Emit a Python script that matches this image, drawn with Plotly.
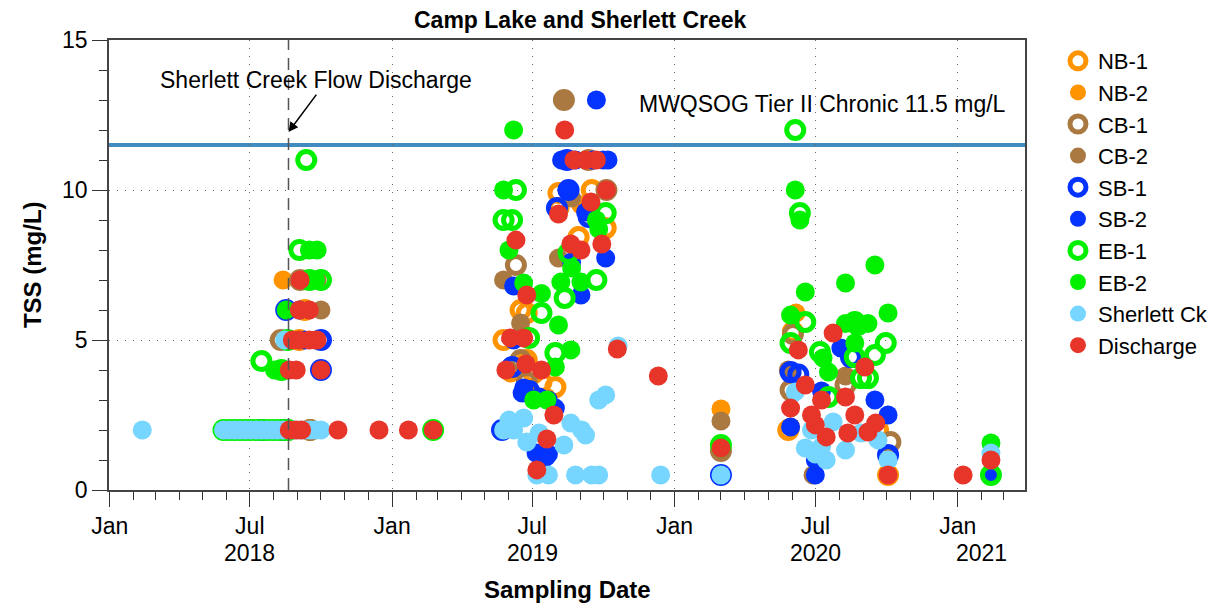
import plotly.graph_objects as go

# ---- data (date, TSS mg/L) ----
nb1_dates = ["2018-09-03", "2018-09-10", "2018-09-17",
             "2019-05-25", "2019-06-16", "2019-06-24", "2019-06-24", "2019-07-13", "2019-07-31",
             "2019-08-04", "2019-08-04", "2019-08-30", "2019-09-16", "2019-10-04", "2019-07-03",
             "2020-05-27", "2020-06-02", "2020-09-20", "2020-10-03"]
nb1_vals = [5.0, 6.0, 2.0,
            5.0, 6.0, 5.9, 4.33, 3.6, 3.43,
            9.9, 9.4, 8.43, 10.0, 8.73, 3.9,
            2.0, 5.27, 2.0, 0.5]

nb2_dates = ["2018-08-13",
             "2019-06-03", "2019-07-19", "2019-09-02",
             "2020-03-01", "2020-06-06", "2020-05-30"]
nb2_vals = [7.0,
            3.9, 3.1, 9.5,
            2.7, 5.9, 2.1]

cb1_dates = ["2018-08-10", "2018-09-04", "2018-09-17",
             "2019-08-11", "2019-09-12", "2019-10-05", "2019-06-10", "2019-06-16", "2019-06-24",
             "2020-03-01", "2020-05-30", "2020-06-02", "2020-10-06", "2020-08-09"]
cb1_vals = [5.0, 7.0, 2.0,
            13.0, 11.0, 10.0, 7.5, 4.33, 3.6,
            1.3, 3.33, 5.2, 1.6, 3.5]

cb2_dates = ["2018-10-01", "2018-09-26", "2018-09-24",
             "2019-08-12", "2019-05-25", "2019-06-16", "2019-08-04", "2019-08-21", "2019-09-16",
             "2020-03-01", "2020-08-09", "2020-06-28", "2020-05-27"]
cb2_vals = [6.0, 7.0, 5.0,
            13.0, 7.0, 5.57, 7.73, 9.73, 11.0,
            2.3, 3.8, 0.5, 4.0]

sb1_dates = ["2018-10-01", "2018-10-01", "2018-08-17", "2018-07-16", "2018-08-13",
             "2019-05-23", "2019-06-05", "2019-08-02", "2019-08-17", "2019-08-15", "2019-09-12",
             "2019-06-27",
             "2020-03-01", "2020-05-30", "2020-06-09", "2020-08-16", "2020-10-03"]
sb1_vals = [4.0, 5.0, 6.0, 2.0, 2.0,
            2.0, 4.1, 9.4, 10.0, 11.0, 9.1,
            3.3,
            0.5, 3.93, 3.85, 4.43, 1.17]

sb2_dates = ["2018-09-10", "2018-09-03",
             "2019-09-22", "2019-08-08", "2019-08-15", "2019-08-26", "2019-09-18", "2019-10-01",
             "2019-10-07", "2019-08-15", "2019-09-08", "2019-10-04", "2019-08-21", "2019-09-02",
             "2019-06-07", "2019-06-07", "2019-06-18", "2019-07-22", "2019-07-31", "2019-07-06",
             "2019-07-19", "2019-07-22", "2019-06-20", "2019-07-10",
             "2020-05-30", "2020-07-01", "2020-07-01", "2020-08-03", "2020-09-16", "2020-10-03",
             "2020-07-09", "2021-02-13"]
sb2_vals = [5.0, 6.0,
            13.0, 11.0, 11.0, 11.0, 11.0, 11.0,
            11.0, 10.0, 9.27, 7.73, 7.6, 6.5,
            6.8, 5.0, 3.23, 3.0, 2.73, 1.23,
            1.1, 1.2, 3.4, 3.1,
            2.1, 1.0, 0.5, 4.73, 3.0, 2.5,
            3.3, 0.5]

eb1_dates = ["2018-05-28", "2018-06-04", "2018-06-11", "2018-06-18", "2018-06-25", "2018-07-02",
             "2018-07-09", "2018-07-16", "2018-07-23", "2018-07-30", "2018-08-06", "2018-08-13",
             "2018-08-20", "2018-07-16", "2018-08-11", "2018-08-19", "2018-09-03", "2018-09-12",
             "2018-09-16", "2018-10-01", "2019-02-23",
             "2019-06-10", "2019-05-25", "2019-06-05", "2019-06-27", "2019-07-13", "2019-07-31",
             "2019-08-12", "2019-08-17", "2019-09-22", "2019-10-04",
             "2020-06-05", "2020-06-11", "2020-03-01", "2020-05-30", "2020-06-18", "2020-07-07",
             "2020-08-21", "2020-08-25", "2020-08-21", "2020-09-07", "2020-08-29", "2020-09-16",
             "2020-09-30", "2020-07-18", "2021-02-13"]
eb1_vals = [2, 2, 2, 2, 2, 2,
            2, 2, 2, 2, 2, 2,
            2, 4.3, 4.0, 5.0, 8.0, 11.0,
            7.0, 7.0, 2.0,
            10.0, 9.0, 9.0, 5.07, 5.9, 4.57,
            6.4, 7.9, 7.0, 9.23,
            12.0, 9.23, 1.5, 4.9, 5.6, 4.6,
            5.6, 5.5, 4.43, 3.73, 3.73, 4.5,
            4.9, 3.1, 0.5]

eb2_dates = ["2018-08-02", "2018-08-17", "2018-09-24", "2018-09-16", "2018-09-26",
             "2019-06-07", "2019-05-25", "2019-06-01", "2019-06-20", "2019-07-13", "2019-08-04",
             "2019-08-20", "2019-07-31", "2019-08-07", "2019-09-02", "2019-08-21", "2019-09-22",
             "2019-09-25", "2019-07-03", "2019-07-20",
             "2020-06-05", "2020-06-11", "2020-09-16", "2020-08-09", "2020-06-18", "2020-05-30",
             "2020-08-09", "2020-08-25", "2020-09-07", "2020-10-03", "2020-07-11", "2020-07-18",
             "2020-08-21", "2020-03-01", "2021-02-13"]
eb2_vals = [4.0, 6.0, 7.0, 8.0, 8.0,
            12.0, 10.0, 8.0, 6.9, 6.55, 5.5,
            4.67, 4.1, 6.93, 6.93, 7.4, 9.0,
            8.7, 3.0, 3.0,
            10.0, 9.0, 7.5, 6.9, 6.6, 5.83,
            5.55, 5.55, 5.55, 5.9, 4.4, 3.93,
            4.9, 1.4, 1.57]

sck_dates = ["2018-02-12", "2018-05-28", "2018-06-04", "2018-06-11", "2018-06-18", "2018-06-25",
             "2018-07-02", "2018-07-09", "2018-07-16", "2018-07-23", "2018-07-30", "2018-08-06",
             "2018-08-13", "2018-08-20", "2018-08-27", "2018-09-03", "2018-09-10", "2018-09-17",
             "2018-09-24", "2018-10-01", "2018-08-15",
             "2019-06-01", "2019-05-25", "2019-06-07", "2019-06-24", "2019-06-20", "2019-07-10",
             "2019-08-20", "2019-09-03", "2019-09-08", "2019-08-11", "2019-07-07", "2019-07-22",
             "2019-08-26", "2019-09-16", "2019-09-25", "2019-10-04", "2019-09-25", "2019-10-20",
             "2019-12-14",
             "2020-03-01", "2020-06-05", "2020-06-18", "2020-07-09", "2020-07-24", "2020-08-09",
             "2020-08-29", "2020-09-20", "2020-10-03", "2020-07-01", "2020-07-15", "2020-06-26",
             "2021-02-13"]
sck_vals = [2, 2, 2, 2, 2, 2,
            2, 2, 2, 2, 2, 2,
            2, 2, 2, 2, 2, 2,
            2, 2, 5.0,
            2.33, 2.0, 2.0, 1.6, 2.4, 1.9,
            2.23, 2.0, 1.83, 1.5, 0.5, 0.5,
            0.5, 0.5, 0.5, 3.17, 3.0, 4.8,
            0.5,
            0.5, 3.27, 1.4, 1.45, 2.27, 1.33,
            1.9, 1.67, 1.0, 1.2, 1.0, 2.0,
            1.23]

dis_dates = ["2018-08-21", "2018-08-30", "2018-09-06", "2018-10-23", "2018-12-15", "2019-01-22",
             "2019-02-23", "2018-08-21", "2018-08-30", "2018-10-01", "2018-08-25", "2018-09-03",
             "2018-09-16", "2018-09-26", "2018-09-03", "2018-09-16", "2018-09-04",
             "2019-08-12", "2019-08-24", "2019-09-08", "2019-09-22", "2019-10-05", "2019-08-04",
             "2019-09-15", "2019-06-10", "2019-08-20", "2019-09-02", "2019-09-29", "2019-06-24",
             "2019-06-03", "2019-06-20", "2019-05-28", "2019-06-23", "2019-07-13", "2019-07-29",
             "2019-07-20", "2019-07-07", "2019-10-19", "2019-12-11",
             "2020-03-01", "2020-06-09", "2020-06-18", "2020-07-24", "2020-07-09", "2020-08-09",
             "2020-09-03", "2020-05-30", "2020-06-26", "2020-08-21", "2020-09-17", "2020-07-01",
             "2020-07-15", "2020-08-12", "2020-09-07", "2020-10-03", "2021-01-08", "2021-02-13"]
dis_vals = [2, 2, 2, 2, 2, 2,
            2, 4, 4, 4, 5, 5,
            5, 5, 6, 6, 7,
            12.0, 11.0, 11.0, 11.0, 10.0, 9.2,
            9.6, 8.33, 8.2, 8.0, 8.2, 6.5,
            5.07, 5.07, 4.0, 4.2, 4.0, 2.5,
            1.7, 0.67, 4.7, 3.8,
            1.4, 4.67, 3.5, 5.23, 3.0, 3.1,
            4.1, 2.73, 2.5, 2.5, 2.23, 2.17,
            1.77, 1.9, 1.93, 0.5, 0.5, 1.0]

year_ticks = ["2018-01-01", "2018-07-01", "2019-01-01", "2019-07-01",
              "2020-01-01", "2020-07-01", "2021-01-01"]
year_tick_text = ["Jan", "Jul", "Jan", "Jul", "Jan", "Jul", "Jan"]
year_labels = ["2018", "2019", "2020", "2021"]
year_label_pos = ["2018-07-01", "2019-07-01", "2020-07-01", "2021-02-01"]

discharge_date = "2018-08-20"
guideline = 11.5

FONT = "Liberation Sans, Arial, Helvetica, sans-serif"
FS = 23

series = [
    ("NB-1", nb1_dates, nb1_vals, "#FF9300", True),
    ("NB-2", nb2_dates, nb2_vals, "#FF9300", False),
    ("CB-1", cb1_dates, cb1_vals, "#AA7942", True),
    ("CB-2", cb2_dates, cb2_vals, "#AA7942", False),
    ("SB-1", sb1_dates, sb1_vals, "#0433FF", True),
    ("SB-2", sb2_dates, sb2_vals, "#0433FF", False),
    ("EB-1", eb1_dates, eb1_vals, "#00F000", True),
    ("EB-2", eb2_dates, eb2_vals, "#00F000", False),
    ("Sherlett Ck", sck_dates, sck_vals, "#76D6FF", False),
    ("Discharge", dis_dates, dis_vals, "#E8352A", False),
]

fig = go.Figure()

for name, xs, ys, color, is_open in series:
    if is_open:
        marker = dict(symbol="circle-open", size=17, color=color, line=dict(color=color, width=5))
    else:
        marker = dict(symbol="circle", size=19, color=color, line=dict(width=0))
    fig.add_trace(go.Scatter(
        x=xs, y=ys, mode="markers", name=name, marker=marker,
        legendgroup=name, hoverinfo="x+y+name"
    ))

# guideline and discharge date
fig.add_shape(type="line", xref="paper", x0=0, x1=1, y0=guideline, y1=guideline,
              line=dict(color="#428BC1", width=4), layer="below")
fig.add_shape(type="line", x0=discharge_date, x1=discharge_date, yref="paper", y0=0, y1=1,
              line=dict(color="#555555", width=1.5, dash="12px,8px"), layer="above")

# annotations
fig.add_annotation(x="2018-03-04", y=13.67, text="Sherlett Creek Flow Discharge",
                   showarrow=False, xanchor="left", yanchor="middle",
                   font=dict(size=FS, color="black", family=FONT))
fig.add_annotation(x=discharge_date, y=11.93, ax=29, ay=-39, text="", showarrow=True,
                   arrowhead=2, arrowsize=1.3, arrowwidth=1.5, arrowcolor="black", standoff=0)
fig.add_annotation(x="2019-11-13", y=12.87, text="MWQSOG Tier II Chronic 11.5 mg/L",
                   showarrow=False, xanchor="left", yanchor="middle",
                   font=dict(size=FS, color="black", family=FONT))

for lab, pos in zip(year_labels, year_label_pos):
    fig.add_annotation(x=pos, y=-0.14, yref="paper", text=lab, showarrow=False,
                       yanchor="middle", font=dict(size=FS, color="black", family=FONT))

fig.add_annotation(x=0.5, y=-0.222, xref="paper", yref="paper", text="<b>Sampling Date</b>",
                   showarrow=False, yanchor="middle", font=dict(size=24, color="black", family=FONT))
fig.add_annotation(x=-0.084, y=0.5, xref="paper", yref="paper", text="<b>TSS (mg/L)</b>",
                   textangle=-90, showarrow=False, xanchor="center",
                   font=dict(size=24, color="black", family=FONT))
fig.add_annotation(x=0.515, y=1.044, xref="paper", yref="paper",
                   text="<b>Camp Lake and Sherlett Creek</b>", showarrow=False, yanchor="middle",
                   font=dict(size=FS, color="black", family=FONT))

fig.update_layout(
    width=1225, height=605,
    margin=dict(l=109, r=200, t=40, b=115),
    plot_bgcolor="white", paper_bgcolor="white",
    font=dict(family=FONT, size=FS, color="black"),
    showlegend=True,
    legend=dict(x=1.036, y=1.0, xanchor="left", yanchor="top",
                font=dict(size=22, family=FONT), tracegroupgap=0,
                bgcolor="rgba(0,0,0,0)", itemsizing="trace"),
    xaxis=dict(
        type="date", range=["2017-12-31", "2021-03-29"],
        tickmode="array", tickvals=year_ticks, ticktext=year_tick_text,
        ticks="outside", ticklen=15, tickwidth=1, tickcolor="#333",
        showline=True, linecolor="#444", linewidth=1.5, mirror=True,
        showgrid=True, gridcolor="#666", gridwidth=1, griddash="1px,7px",
        zeroline=False, tickfont=dict(size=FS),
        minor=dict(dtick="M1", tick0="2018-01-01", ticks="outside", ticklen=8,
                   tickcolor="#333", showgrid=False),
    ),
    yaxis=dict(
        range=[0, 15], tickmode="linear", tick0=0, dtick=5,
        ticks="outside", ticklen=15, tickwidth=1, tickcolor="#333",
        showline=True, linecolor="#444", linewidth=1.5, mirror=True,
        showgrid=True, gridcolor="#666", gridwidth=1, griddash="1px,7px",
        zeroline=False, tickfont=dict(size=FS),
        minor=dict(dtick=1, ticks="outside", ticklen=8, tickcolor="#333", showgrid=False),
    ),
)

fig.write_html("out.html", config={"displayModeBar": False},
               post_script="document.body.style.margin='0';")
